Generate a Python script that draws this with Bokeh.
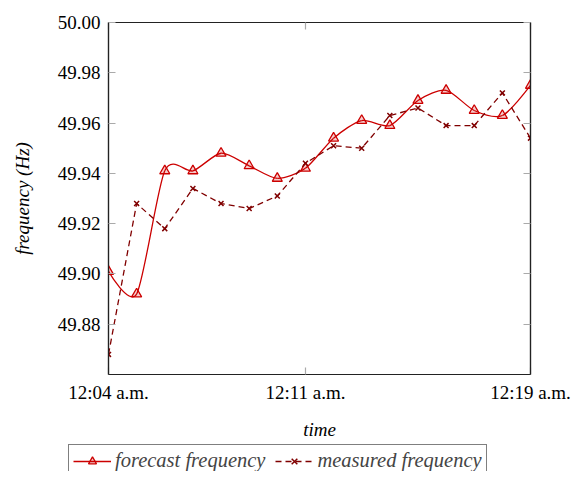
import numpy as np
from bokeh.plotting import figure
from bokeh.layouts import column, row
from bokeh.models import (LinearAxis, FixedTicker, Range1d, Legend, LegendItem,
                          ColumnDataSource)
from bokeh.embed import file_html
from bokeh.resources import INLINE

# ---- data ----
minutes = [4, 5, 6, 7, 8, 9, 10, 11, 12, 13, 14, 15, 16, 17, 18, 19]
forecast = [49.901, 49.892, 49.941, 49.941, 49.948, 49.943, 49.938, 49.942,
            49.954, 49.961, 49.959, 49.969, 49.973, 49.965, 49.963, 49.975]
measured = [49.868, 49.928, 49.918, 49.934, 49.928, 49.926, 49.931, 49.944,
            49.951, 49.950, 49.963, 49.966, 49.959, 49.959, 49.972, 49.954]
x_ticks = [4, 11, 19]
x_tick_labels = ["12:04 a.m.", "12:11 a.m.", "12:19 a.m."]
y_ticks = [49.88, 49.90, 49.92, 49.94, 49.96, 49.98, 50.00]
y_tick_labels = ["49.88", "49.90", "49.92", "49.94", "49.96", "49.98", "50.00"]
series_names = ["forecast frequency", "measured frequency"]

RED = "#cc0000"
DARK = "#800000"
FONT = "'Liberation Serif', 'Times New Roman', Times, serif"
FS = "19px"

# smooth (pgf-like) bezier segments built from the forecast points
T = 0.13
xs = np.array(minutes, dtype=float)
ys = np.array(forecast, dtype=float)
n = len(xs)
x0, y0, x1, y1, cx0, cy0, cx1, cy1 = [], [], [], [], [], [], [], []
for i in range(n - 1):
    ip = max(i - 1, 0)
    inx = min(i + 2, n - 1)
    if i == 0:
        c0x, c0y = xs[i], ys[i]
    else:
        c0x = xs[i] + T * (xs[i + 1] - xs[ip])
        c0y = ys[i] + T * (ys[i + 1] - ys[ip])
    if i + 1 == n - 1:
        c1x, c1y = xs[i + 1], ys[i + 1]
    else:
        c1x = xs[i + 1] - T * (xs[inx] - xs[i])
        c1y = ys[i + 1] - T * (ys[inx] - ys[i])
    x0.append(xs[i]); y0.append(ys[i]); x1.append(xs[i + 1]); y1.append(ys[i + 1])
    cx0.append(c0x); cy0.append(c0y); cx1.append(c1x); cy1.append(c1y)
bez = ColumnDataSource(dict(x0=x0, y0=y0, x1=x1, y1=y1, cx0=cx0, cy0=cy0, cx1=cx1, cy1=cy1))

p = figure(width=572, height=442, x_range=Range1d(4, 19), y_range=Range1d(49.86, 50.0),
           output_backend="svg", toolbar_location=None,
           min_border_left=108, min_border_right=42, min_border_top=22, min_border_bottom=64)
p.xgrid.visible = False
p.ygrid.visible = False
p.outline_line_color = "#222222"
p.outline_line_width = 1.2
p.background_fill_color = "white"
p.border_fill_color = "white"

# axes
def style_axis(ax, labels):
    ax.major_tick_in = 7
    ax.major_tick_out = 0
    ax.minor_tick_in = 0
    ax.minor_tick_out = 0
    ax.major_tick_line_color = "#aaaaaa"
    ax.major_tick_line_width = 1.2
    ax.axis_line_color = "#222222"
    ax.axis_line_width = 1.2
    ax.major_label_text_font = FONT
    ax.major_label_text_font_size = FS
    ax.major_label_text_color = "black" if labels else None
    ax.axis_label_text_font = FONT
    ax.axis_label_text_font_size = FS
    ax.axis_label_text_font_style = "italic"
    ax.axis_label_text_color = "black"

xax = p.xaxis[0]
xax.ticker = FixedTicker(ticks=x_ticks)
xax.major_label_overrides = {t: l for t, l in zip(x_ticks, x_tick_labels)}
xax.axis_label = "time"
style_axis(xax, True)
xax.major_label_standoff = 7
xax.axis_label_standoff = 13

yax = p.yaxis[0]
yax.ticker = FixedTicker(ticks=y_ticks)
yax.major_label_overrides = {t: l for t, l in zip(y_ticks, y_tick_labels)}
yax.axis_label = "frequency (Hz)"
style_axis(yax, True)
yax.major_label_standoff = 8
yax.axis_label_standoff = 22

rax = LinearAxis(ticker=FixedTicker(ticks=y_ticks))
style_axis(rax, False)
rax.major_label_text_font_size = "0px"
p.add_layout(rax, "right")
tax = LinearAxis(ticker=FixedTicker(ticks=x_ticks))
style_axis(tax, False)
tax.major_label_text_font_size = "0px"
p.add_layout(tax, "above")

# forecast: smooth curve + triangles
p.bezier(x0="x0", y0="y0", x1="x1", y1="y1", cx0="cx0", cy0="cy0", cx1="cx1", cy1="cy1",
         source=bez, line_color=RED, line_width=1.3)
p.scatter(minutes, forecast, marker="triangle", size=10, line_color=RED,
          line_width=1.3, fill_color=RED, fill_alpha=0.2)

# measured: dashed + x marks
p.line(minutes, measured, line_color=DARK, line_width=1.3, line_dash="6 4")
p.scatter(minutes, measured, marker="x", size=7, line_color=DARK, line_width=1.5)

# ---- legend strip (separate small figure so it can sit left of the frame) ----
lf = figure(width=572, height=29, output_backend="svg", toolbar_location=None,
            x_axis_type=None, y_axis_type=None, min_border=0,
            min_border_left=0, min_border_right=0, min_border_top=0, min_border_bottom=0,
            x_range=Range1d(0, 1), y_range=Range1d(0, 1))
lf.xgrid.visible = False
lf.ygrid.visible = False
lf.outline_line_color = None
lf.border_fill_color = "white"
off = [-10]
l1 = lf.line(x=off, y=off, line_color=RED, line_width=1.3)
t1 = lf.scatter(x=off, y=off, marker="triangle", size=10, line_color=RED,
                line_width=1.3, fill_color=RED, fill_alpha=0.2)
l2 = lf.line(x=off, y=off, line_color=DARK, line_width=1.3, line_dash="6 4")
t2 = lf.scatter(x=off, y=off, marker="x", size=7, line_color=DARK, line_width=1.5)
legend = Legend(items=[
    LegendItem(label=series_names[0], renderers=[l1, t1]),
    LegendItem(label=series_names[1], renderers=[l2, t2]),
], location=(68, -6), orientation="horizontal")
legend.label_text_font = FONT
legend.label_text_font_size = "20.5px"
legend.label_text_font_style = "italic"
legend.glyph_width = 38
legend.glyph_height = 20
legend.label_standoff = 4
legend.spacing = 10
legend.padding = 4
legend.margin = 0
legend.border_line_color = "black"
legend.border_line_width = 1
legend.background_fill_alpha = 1
lf.add_layout(legend)

layout = column(p, row(lf), spacing=0)
open("out.html", "w").write(file_html(layout, INLINE))
